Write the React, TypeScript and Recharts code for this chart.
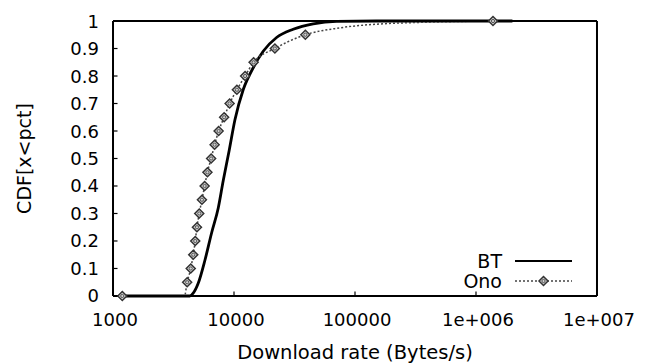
import React from 'react';
import { LineChart, Line, XAxis, YAxis, Legend, Label } from 'recharts';

// BT: solid curve
const btRate = [1200, 4325, 4600, 5060, 5750, 6535, 7410, 8150, 9130, 10170, 11910, 14410, 17430, 22480, 30840, 45100, 70300, 150000, 2000000];
const btCdf = [0, 0, 0.01, 0.046, 0.13, 0.23, 0.32, 0.42, 0.53, 0.64, 0.75, 0.83, 0.89, 0.94, 0.97, 0.99, 0.999, 1, 1];

// Ono: dotted curve, markers on some of the points
const onoRate = [1193, 3900, 4100, 4390, 4604, 4782, 4940, 5161, 5431, 5718, 6031, 6470, 6915, 7462, 8286, 9200, 10566, 12350, 14520, 21770, 38870, 74800, 170000, 343000, 1382000];
const onoCdf = [0, 0, 0.05, 0.1, 0.15, 0.2, 0.25, 0.3, 0.35, 0.4, 0.45, 0.5, 0.55, 0.6, 0.65, 0.7, 0.75, 0.8, 0.85, 0.9, 0.95, 0.975, 0.99, 0.995, 1];
const onoMark = [true, false, true, true, true, true, true, true, true, true, true, true, true, true, true, true, true, true, true, true, true, false, false, false, true];

const xTicks = [1000, 10000, 100000, 1000000, 10000000];
const xTickLabels = ['1000', '10000', '100000', '1e+006', '1e+007'];
const yTicks = [0, 0.1, 0.2, 0.3, 0.4, 0.5, 0.6, 0.7, 0.8, 0.9, 1];
const yTickLabels = ['0', '0.1', '0.2', '0.3', '0.4', '0.5', '0.6', '0.7', '0.8', '0.9', '1'];
const minorSteps = [2, 3, 4, 5, 6, 7, 8, 9];
const minorTicks = xTicks.slice(0, -1).flatMap((d) => minorSteps.map((m) => d * m));

const btData = btRate.map((x, i) => ({ x, y: btCdf[i] }));
const onoData = onoRate.map((x, i) => ({ x, y: onoCdf[i], mark: onoMark[i] }));

const FONT = "'DejaVu Sans', sans-serif";
const X_DOMAIN: [number, number] = [1000, 10000000];
const THIN = 0.01; // axes must have a size > 0 to be drawn
const MAJOR = 4.5;
const MINOR = 2.5;

const diamondPath = (cx: number, cy: number, r: number) =>
  `M${cx},${cy - r}L${cx + r},${cy}L${cx},${cy + r}L${cx - r},${cy}Z`;

const OnoDot = (props: any) => {
  const { cx, cy, payload, index } = props;
  if (!payload || !payload.mark || cx == null || cy == null) return <g key={`d-${index}`} />;
  return (
    <g key={`d-${index}`}>
      <path d={diamondPath(cx, cy, 4.5)} fill="#d0d0d0" stroke="#333" strokeWidth={1.5} />
      <circle cx={cx} cy={cy} r={1.6} fill="none" stroke="#555" strokeWidth={1} />
    </g>
  );
};

// ticks point into the plot, gnuplot style; labels stay outside
const BottomTick = (props: any) => {
  const { x, y, payload } = props;
  const label = xTickLabels[xTicks.indexOf(payload.value)];
  return (
    <g>
      <line x1={x} x2={x} y1={y} y2={y - MAJOR} stroke="#000" strokeWidth={1.2} />
      <text x={x + 2} y={y + 24} textAnchor="middle" dominantBaseline="central" fontSize={18} fontFamily={FONT} fill="#000">
        {label}
      </text>
    </g>
  );
};

const LeftTick = (props: any) => {
  const { x, y, payload } = props;
  const label = yTickLabels[yTicks.indexOf(payload.value)];
  return (
    <g>
      <line x1={x} x2={x + MAJOR} y1={y} y2={y} stroke="#000" strokeWidth={1.2} />
      <text x={x - 14} y={y} textAnchor="end" dominantBaseline="central" fontSize={18} fontFamily={FONT} fill="#000">
        {label}
      </text>
    </g>
  );
};

const makeTick = (dx: number, dy: number) => (props: any) => {
  const { x, y } = props;
  return <line x1={x} x2={x + dx} y1={y} y2={y + dy} stroke="#000" strokeWidth={1.2} />;
};

const renderLegend = (props: any) => {
  const { payload } = props;
  return (
    <svg width={160} height={46}>
      {payload?.map((entry: any, i: number) => {
        const cy = 13 + i * 20;
        const isOno = entry.value === 'Ono';
        return (
          <g key={`leg-${i}`}>
            <text x={72} y={cy} textAnchor="end" dominantBaseline="central" fontSize={19} fontFamily={FONT} fill="#000">
              {entry.value}
            </text>
            <line
              x1={85}
              x2={142}
              y1={cy}
              y2={cy}
              stroke={isOno ? '#444' : '#000'}
              strokeWidth={isOno ? 1.5 : 2}
              strokeDasharray={isOno ? '2 2' : undefined}
            />
            {isOno && OnoDot({ cx: 113.5, cy, payload: { mark: true }, index: 'leg' })}
          </g>
        );
      })}
    </svg>
  );
};

const YTitle = (props: any) => {
  const vb = props.viewBox;
  const x = vb.x - 89.5;
  const y = vb.y + vb.height / 2;
  return (
    <text x={x} y={y} transform={`rotate(-90 ${x} ${y})`} textAnchor="middle" dominantBaseline="central" fontSize={19} fontFamily={FONT} fill="#000">
      CDF[x&lt;pct]
    </text>
  );
};

const frame = { stroke: '#000', strokeWidth: 2 };
const tickBase = { tickSize: 0, tickMargin: 0, tickLine: false, interval: 0 as const };

const App: React.FC = () => {
  return (
    <div style={{ position: 'absolute', left: 0, top: 0, background: '#fff' }}>
      <LineChart width={650} height={363} margin={{ top: 21, right: 53, bottom: 67, left: 113 }}>
        {/* minor ticks on bottom and top, major ticks on top and right */}
        <XAxis xAxisId="minorB" orientation="bottom" height={THIN} type="number" scale="log" domain={X_DOMAIN} allowDataOverflow ticks={minorTicks} tick={makeTick(0, -MINOR)} axisLine={false} {...tickBase} />
        <XAxis xAxisId="minorT" orientation="top" height={THIN} type="number" scale="log" domain={X_DOMAIN} allowDataOverflow ticks={minorTicks} tick={makeTick(0, MINOR)} axisLine={false} {...tickBase} />
        <XAxis xAxisId="top" orientation="top" height={THIN} type="number" scale="log" domain={X_DOMAIN} allowDataOverflow ticks={xTicks} tick={makeTick(0, MAJOR)} axisLine={frame} {...tickBase} />
        <YAxis yAxisId="right" orientation="right" width={THIN} type="number" domain={[0, 1]} ticks={yTicks} tick={makeTick(-MAJOR, 0)} axisLine={frame} {...tickBase} />

        <XAxis
          xAxisId="main"
          dataKey="x"
          type="number"
          scale="log"
          domain={X_DOMAIN}
          allowDataOverflow
          ticks={xTicks}
          height={THIN}
          axisLine={frame}
          tick={BottomTick}
          {...tickBase}
        >
          <Label value="Download rate (Bytes/s)" position="bottom" offset={49} fill="#000" fontSize={19.5} fontFamily={FONT} />
        </XAxis>
        <YAxis
          yAxisId="main"
          type="number"
          domain={[0, 1]}
          ticks={yTicks}
          width={THIN}
          axisLine={frame}
          tick={LeftTick}
          {...tickBase}
        >
          <Label content={YTitle} />
        </YAxis>

        <Line
          xAxisId="main"
          yAxisId="main"
          data={btData}
          dataKey="y"
          name="BT"
          type="monotone"
          stroke="#000"
          strokeWidth={2.8}
          dot={false}
          activeDot={false}
          isAnimationActive={false}
        />
        <Line
          xAxisId="main"
          yAxisId="main"
          data={onoData}
          dataKey="y"
          name="Ono"
          type="monotone"
          stroke="#444"
          strokeWidth={1.5}
          strokeDasharray="2 2"
          dot={OnoDot}
          activeDot={false}
          isAnimationActive={false}
        />

        <Legend
          layout="horizontal"
          verticalAlign="middle"
          align="center"
          content={renderLegend}
          wrapperStyle={{ left: 430, top: 248, width: 160, height: 46 }}
        />
      </LineChart>
    </div>
  );
};

export default App;
